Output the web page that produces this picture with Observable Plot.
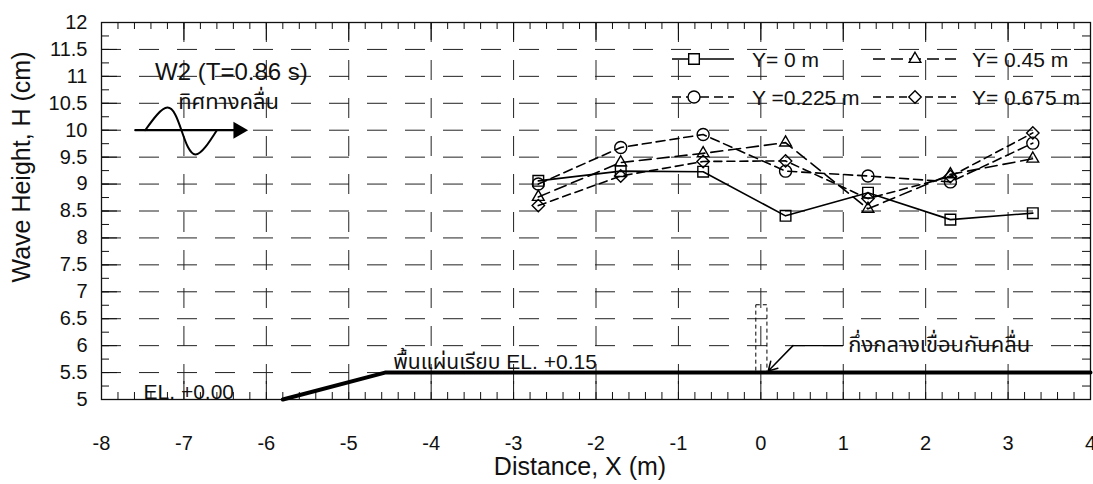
<!DOCTYPE html>
<html><head><meta charset="utf-8">
<script src="https://cdn.jsdelivr.net/npm/d3@7"></script>
<script src="https://cdn.jsdelivr.net/npm/@observablehq/plot@0.6"></script>
<style>
body{margin:0;background:#fff;}
#wrap{position:relative;width:1093px;height:484px;overflow:hidden;}
#legend{position:absolute;left:0;top:0;pointer-events:none;}
</style></head><body><div id="wrap"></div>
<script>
// ---- data ----
const xPos = [-2.7, -1.7, -0.7, 0.3, 1.3, 2.3, 3.3];
const seriesNames = ["Y= 0 m", "Y =0.225 m", "Y= 0.45 m", "Y= 0.675 m"];
const hY0    = [9.06, 9.24, 9.23, 8.41, 8.84, 8.34, 8.46];
const hY0225 = [9.00, 9.68, 9.92, 9.24, 9.15, 9.04, 9.76];
const hY045  = [8.76, 9.40, 9.57, 9.77, 8.54, 9.18, 9.47];
const hY0675 = [8.60, 9.15, 9.42, 9.43, 8.73, 9.14, 9.95];
const seriesSymbols = ["square", "circle", "triangle2", "diamond2"];
const seriesDash = [null, "9,5", "12,6", "8,5"];

const xTicks = [-8, -7, -6, -5, -4, -3, -2, -1, 0, 1, 2, 3, 4];
const yTicks = [5, 5.5, 6, 6.5, 7, 7.5, 8, 8.5, 9, 9.5, 10, 10.5, 11, 11.5, 12];
const xTitle = "Distance, X (m)";
const yTitle = "Wave Height, H (cm)";

// bed profile (floor) and breakwater centre
const bedX = [-5.8, -4.56, 4];
const bedY = [5.0, 5.5, 5.5];
const breakwater = {x1: -0.055, x2: 0.08, y1: 5.5, y2: 6.75};

// wave direction icon
const waveX = [-7.47, -7.20, -7.03, -6.86, -6.60];
const waveY = [10, 10.42, 10, 9.55, 10];

// ---- layout ----
const W = 1093, H = 484;
const mL = 101, mR = 3, mT = 22, mB = 85;
const pw = W - mL - mR, ph = H - mT - mB;
const FONT = "'Liberation Sans', Arial, 'Noto Sans Thai', 'Noto Sans', 'DejaVu Sans', sans-serif";

const allSeries = [hY0, hY0225, hY045, hY0675];
const rows = allSeries.flatMap((arr, i) => arr.map((v, j) => ({x: xPos[j], y: v, s: seriesNames[i], i})));

const xMinor = d3.range(-8, 4.0001, 0.2).map(v => +v.toFixed(2));
const yMinor = d3.range(5, 12.0001, 0.25).map(v => +v.toFixed(2));
const gridXv = xTicks.slice(1, -1);
const gridYv = yTicks.slice(1, -1);

const ink = "#111";
const marks = [
  Plot.gridX(gridXv, {stroke: "#222", strokeOpacity: 1, strokeWidth: 1, strokeDasharray: "20,18"}),
  Plot.gridY(gridYv, {stroke: "#222", strokeOpacity: 1, strokeWidth: 1, strokeDasharray: "20,18"}),
  // inner ticks: bottom/top
  Plot.ruleX(xMinor, {stroke: ink, insetTop: ph - 7}),
  Plot.ruleX(xTicks, {stroke: ink, insetTop: ph - 18}),
  Plot.ruleX(xMinor, {stroke: ink, insetBottom: ph - 7}),
  Plot.ruleX(xTicks, {stroke: ink, insetBottom: ph - 18}),
  // inner ticks: left/right
  Plot.ruleY(yMinor, {stroke: ink, insetRight: pw - 8}),
  Plot.ruleY(yTicks, {stroke: ink, insetRight: pw - 16}),
  Plot.ruleY(yMinor, {stroke: ink, insetLeft: pw - 8}),
  Plot.ruleY(yTicks, {stroke: ink, insetLeft: pw - 16}),
  Plot.frame({stroke: ink, strokeWidth: 1.3}),
  Plot.axisX(xTicks, {tickSize: 0, tickPadding: 36, fontSize: 20, fill: ink, tickFormat: d => String(d), label: null}),
  Plot.axisY(yTicks, {tickSize: 0, tickPadding: 14, fontSize: 20, fill: ink, tickFormat: d => String(d), label: null}),
  // floor
  Plot.line(bedX.map((x, i) => ({x, y: bedY[i]})), {x: "x", y: "y", stroke: "#000", strokeWidth: 4}),
  Plot.rect([breakwater], {x1: "x1", x2: "x2", y1: "y1", y2: "y2", fill: "none", stroke: "#000", strokeWidth: 1, strokeDasharray: "4,3"}),
  Plot.line([{x: 0.99, y: 6.0}, {x: 0.39, y: 6.0}], {x: "x", y: "y", stroke: "#000", strokeWidth: 1.3}),
  Plot.arrow([{x1: 0.39, y1: 6.0, x2: 0.09, y2: 5.53}], {x1: "x1", y1: "y1", x2: "x2", y2: "y2", stroke: "#000", strokeWidth: 1.5, headLength: 10, bend: 0}),
  Plot.text(["กึ่งกลางเขื่อนกันคลื่น"], {x: 1.06, y: 6.02, textAnchor: "start", fontSize: 22, fill: ink}),
  Plot.text(["พื้นแผ่นเรียบ EL. +0.15"], {x: -4.46, y: 5.7, textAnchor: "start", fontSize: 21, fill: ink}),
  Plot.text(["EL. +0.00"], {x: -7.49, y: 5.14, textAnchor: "start", fontSize: 21, fill: ink}),
  Plot.text(["W2 (T=0.86 s)"], {x: -7.35, y: 11.08, textAnchor: "start", fontSize: 24, fill: ink}),
  Plot.text(["ทิศทางคลื่น"], {x: -7.07, y: 10.52, textAnchor: "start", fontSize: 22, fill: ink}),
  // wave icon
  Plot.line(waveX.map((x, i) => ({x, y: waveY[i]})), {x: "x", y: "y", curve: "natural", stroke: "#000", strokeWidth: 2}),
  Plot.line([{x: -7.59, y: 10}, {x: -6.36, y: 10}], {x: "x", y: "y", stroke: "#000", strokeWidth: 2.2}),
  Plot.dot([{x: -6.34, y: 10}], {x: "x", y: "y", symbol: "triangle", r: 6.3, rotate: 90, fill: "#000", stroke: "none"})
];

seriesNames.forEach((name, i) => {
  const d = rows.filter(r => r.i === i);
  marks.push(Plot.line(d, {x: "x", y: "y", stroke: "#000", strokeWidth: 1.6, strokeDasharray: seriesDash[i] || undefined}));
});
const symR = {square: 6, circle: 6, triangle2: 5.6, diamond2: 5.6};
seriesNames.forEach((name, i) => {
  const d = rows.filter(r => r.i === i);
  marks.push(Plot.dot(d, {x: "x", y: "y", symbol: () => seriesSymbols[i], r: symR[seriesSymbols[i]], stroke: "#000", strokeWidth: 1.4, fill: "none"}));
});

const chart = Plot.plot({
  width: W, height: H,
  marginLeft: mL, marginRight: mR, marginTop: mT, marginBottom: mB,
  x: {domain: [-8, 4]},
  y: {domain: [5, 12]},
  symbol: {domain: seriesSymbols, range: seriesSymbols},
  style: {fontFamily: FONT, fontSize: "19px", background: "#fff", color: ink},
  marks
});
document.getElementById("wrap").appendChild(chart);

// ---- overlay: axis titles and legend (inside the plot area, top right) ----
const leg = d3.select("#wrap").append("svg").attr("id", "legend").attr("width", W).attr("height", H);
leg.append("text").attr("x", 580).attr("y", 466).attr("dy", "0.36em").attr("text-anchor", "middle")
  .attr("font-family", FONT).attr("font-size", 25).attr("fill", ink).text(xTitle);
leg.append("text").attr("transform", "translate(21,167) rotate(-90)").attr("dy", "0.36em").attr("text-anchor", "middle")
  .attr("font-family", FONT).attr("font-size", 25).attr("fill", ink).text(yTitle);

const legendRowsY = [59, 97];
const legendCols = [{x1: 672, x2: 734, mx: 694, tx: 752}, {x1: 873, x2: 956, mx: 915, tx: 972}];
const legendOrder = [[0, 0, 0], [1, 0, 1], [2, 1, 0], [3, 1, 1]]; // series, col, row
const symMap = {square: d3.symbolSquare, circle: d3.symbolCircle, triangle2: d3.symbolTriangle2, diamond2: d3.symbolDiamond2};
legendOrder.forEach(([si, c, r]) => {
  const col = legendCols[c], y = legendRowsY[r];
  leg.append("line").attr("x1", col.x1).attr("x2", col.x2).attr("y1", y).attr("y2", y)
    .attr("stroke", "#000").attr("stroke-width", 1.6).attr("stroke-dasharray", seriesDash[si]);
  const rr = symR[seriesSymbols[si]];
  leg.append("path").attr("transform", `translate(${col.mx},${y})`)
    .attr("d", d3.symbol(symMap[seriesSymbols[si]], Math.PI * rr * rr)())
    .attr("fill", "#fff").attr("stroke", "#000").attr("stroke-width", 1.4);
  leg.append("text").attr("x", col.tx).attr("y", y).attr("dy", "0.36em")
    .attr("font-family", FONT).attr("font-size", 21).attr("fill", ink).text(seriesNames[si]);
});
</script></body></html>
